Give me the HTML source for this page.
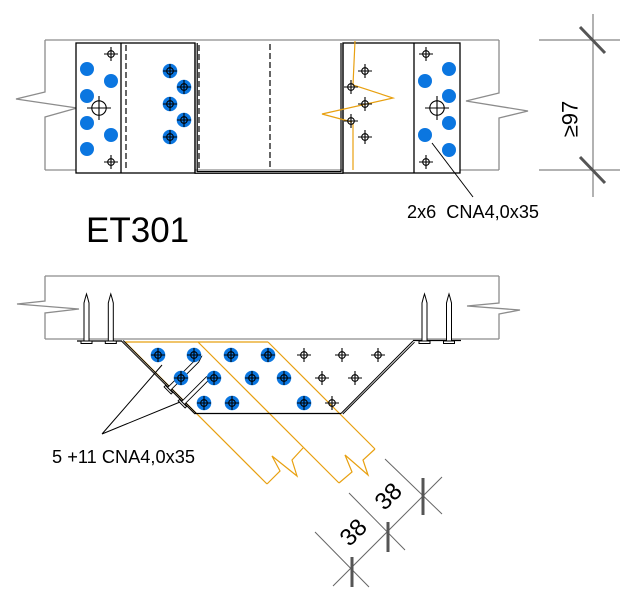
<!DOCTYPE html>
<html>
<head>
<meta charset="utf-8">
<style>
html,body{margin:0;padding:0;background:#fff;}
svg{display:block;}
text{font-family:"Liberation Sans",Arial,sans-serif;fill:#000;}
</style>
</head>
<body>
<svg width="640" height="603" viewBox="0 0 640 603" xmlns="http://www.w3.org/2000/svg">
<defs>
  <g id="c"><circle r="3.3" fill="none" stroke="#000" stroke-width="1.1"/><path d="M-7 0H7M0 -7V7" stroke="#000" stroke-width="1.1"/></g>
  <g id="b"><circle r="7.3" fill="#0b76e0"/><use href="#c"/></g>
  <g id="L"><circle r="7.2" fill="none" stroke="#000" stroke-width="1.1"/><path d="M-12 0H12M0 -12V12" stroke="#000" stroke-width="1.1"/></g>
</defs>

<!-- ================= TOP VIEW ================= -->
<path d="M45 40H499 M45 170H499 M45 40V92L16 99L77 108L45 117V170 M499 40V93L466 101L528 111L499 118V170" fill="none" stroke="#8c8c8c" stroke-width="1.3"/>

<!-- left plate -->
<rect x="76" y="43" width="119" height="130" fill="#fff" stroke="#000" stroke-width="1.3"/>
<path d="M121 43V173" stroke="#000" stroke-width="1.3"/>
<path d="M126 45V171" stroke="#000" stroke-width="1.2" stroke-dasharray="6 3"/>

<!-- right plate -->
<rect x="343" y="43" width="117" height="130" fill="#fff" stroke="#000" stroke-width="1.3"/>
<path d="M414 43V173" stroke="#000" stroke-width="1.3"/>

<!-- U channel -->
<path d="M195 43V173.3H343V43" fill="none" stroke="#000" stroke-width="1.2"/>
<path d="M197.2 43V171.6H341V43" fill="none" stroke="#000" stroke-width="1.2"/>
<path d="M199 45V170" stroke="#000" stroke-width="1.2" stroke-dasharray="6 3"/>
<path d="M270 44V170" stroke="#000" stroke-width="1.2" stroke-dasharray="6 3"/>

<!-- orange break on right side plate -->
<path d="M355 41L353 85L393 98L322 114L352 122 M353 123V170" fill="none" stroke="#e8a010" stroke-width="1.2"/>

<!-- left flange fasteners -->
<g fill="#0b76e0">
  <circle cx="87" cy="69" r="7"/><circle cx="111" cy="81" r="7"/><circle cx="87" cy="96" r="7"/>
  <circle cx="87" cy="123" r="7"/><circle cx="111" cy="135" r="7"/><circle cx="87" cy="149" r="7"/>
</g>
<use href="#c" x="111" y="54"/><use href="#c" x="111" y="162"/>
<use href="#L" x="99" y="108"/>

<!-- left side plate -->
<use href="#b" x="170" y="71"/><use href="#b" x="184" y="87"/><use href="#b" x="170" y="104"/>
<use href="#b" x="184" y="120"/><use href="#b" x="170" y="137"/>

<!-- right side plate -->
<use href="#c" x="365" y="71"/><use href="#c" x="351" y="87"/><use href="#c" x="365" y="104"/>
<use href="#c" x="351" y="121"/><use href="#c" x="365" y="137"/>

<!-- right flange -->
<g fill="#0b76e0">
  <circle cx="449" cy="69" r="7"/><circle cx="425" cy="81" r="7"/><circle cx="449" cy="96" r="7"/>
  <circle cx="449" cy="123" r="7"/><circle cx="425" cy="135" r="7"/><circle cx="449" cy="150" r="7"/>
</g>
<use href="#c" x="426" y="54"/><use href="#c" x="426" y="162"/>
<use href="#L" x="437" y="108"/>

<!-- leader top -->
<path d="M432 143L473 197" stroke="#000" stroke-width="1"/>
<text x="407" y="218" font-size="18" textLength="132" lengthAdjust="spacingAndGlyphs">2x6&#160; CNA4,0x35</text>

<!-- top dimension -->
<path d="M593 14V197 M539 40H620 M539 170H620" stroke="#666" stroke-width="1"/>
<path d="M580 27L605 53 M580 157L605 183" stroke="#555" stroke-width="3"/>
<text transform="translate(570,119) rotate(-90)" text-anchor="middle" dy="0.35em" font-size="22">≥97</text>

<!-- title -->
<text x="86" y="242" font-size="35">ET301</text>

<!-- ================= SIDE VIEW ================= -->
<path d="M45 276H499 M45 339H499 M45 276V301L17 304L79 309L45 313V339 M499 276V303L467 306L520 310L499 314V339" fill="none" stroke="#8c8c8c" stroke-width="1.3"/>

<!-- orange diagonal beam -->
<path d="M125 342H268 M125 342L267 484 M198 342L339 483 M268 342L375 449
         M267 484L280 471L272 456L297 476L292 460L303 448
         M339 483L352 472L345 455L368 475L363 460L375 449" fill="none" stroke="#e8a010" stroke-width="1.2"/>

<!-- flange lines -->
<path d="M77 341H122 M413 340.5H461" stroke="#000" stroke-width="1.3"/>

<!-- nails vertical -->
<g fill="#fff" stroke="#000" stroke-width="1">
  <polygon points="84,341 84,303 85.3,298 86.5,294 87.7,298 89,303 89,341"/>
  <rect x="81" y="341" width="11" height="2.5"/>
  <polygon points="108.3,341 108.3,303 109.6,298 110.8,294 112,298 113.3,303 113.3,341"/>
  <rect x="105.3" y="341" width="11" height="2.5"/>
  <polygon points="422,341 422,303 423.3,298 424.5,294 425.7,298 427,303 427,341"/>
  <rect x="419" y="341" width="11" height="2.5"/>
  <polygon points="446.5,341 446.5,303 447.8,298 449,294 450.2,298 451.5,303 451.5,341"/>
  <rect x="443.5" y="341" width="11" height="2.5"/>
</g>

<!-- plate outline -->
<path d="M121.5 341L195 414 M123.2 340.5L196.5 413.6" stroke="#000" stroke-width="1"/>
<path d="M413 341L341 413.5 M414.5 342.2L342.8 414" stroke="#000" stroke-width="1"/>
<path d="M195 413.5H341" stroke="#000" stroke-width="1.3"/>

<!-- diagonal nails -->
<g fill="#fff" stroke="#000" stroke-width="0.9">
  <polygon points="167.59,387.59 195.87,359.31 201.53,356.47 198.69,362.13 170.41,390.41"/>
  <polygon points="165.46,385.46 172.54,392.54 171.13,393.95 164.05,386.87"/>
  <polygon points="181.59,401.59 206.34,376.84 211.28,374.72 209.16,379.66 184.41,404.41"/>
  <polygon points="179.46,399.46 186.54,406.54 185.13,407.95 178.05,400.87"/>
</g>

<!-- side view fasteners -->
<use href="#b" x="158" y="355"/><use href="#b" x="194" y="355"/><use href="#b" x="231" y="355"/><use href="#b" x="268" y="355"/>
<use href="#c" x="304" y="355"/><use href="#c" x="342" y="355"/><use href="#c" x="378" y="355"/>
<use href="#b" x="181" y="378"/><use href="#b" x="214" y="378"/><use href="#b" x="252" y="378"/><use href="#b" x="284" y="378"/>
<use href="#c" x="322" y="378"/><use href="#c" x="355" y="378"/>
<use href="#b" x="204" y="403"/><use href="#b" x="232" y="403"/><use href="#b" x="304" y="403"/>
<use href="#c" x="332" y="403"/>

<!-- leaders bottom -->
<path d="M102 434L162 365 M102 434L180 402" stroke="#000" stroke-width="1"/>
<text x="52" y="463" font-size="18" textLength="143" lengthAdjust="spacingAndGlyphs">5 +11 CNA4,0x35</text>

<!-- bottom dimension -->
<path d="M315 532L369 587 M349 493L405 550 M385 459L442 514 M333 586L442 477" stroke="#666" stroke-width="1"/>
<path d="M352 557V587 M388 522V552 M423 478V515" stroke="#555" stroke-width="3"/>
<text transform="translate(353,532) rotate(-45)" text-anchor="middle" dy="0.35em" font-size="24">38</text>
<text transform="translate(388,496) rotate(-45)" text-anchor="middle" dy="0.35em" font-size="24">38</text>
</svg>
</body>
</html>
